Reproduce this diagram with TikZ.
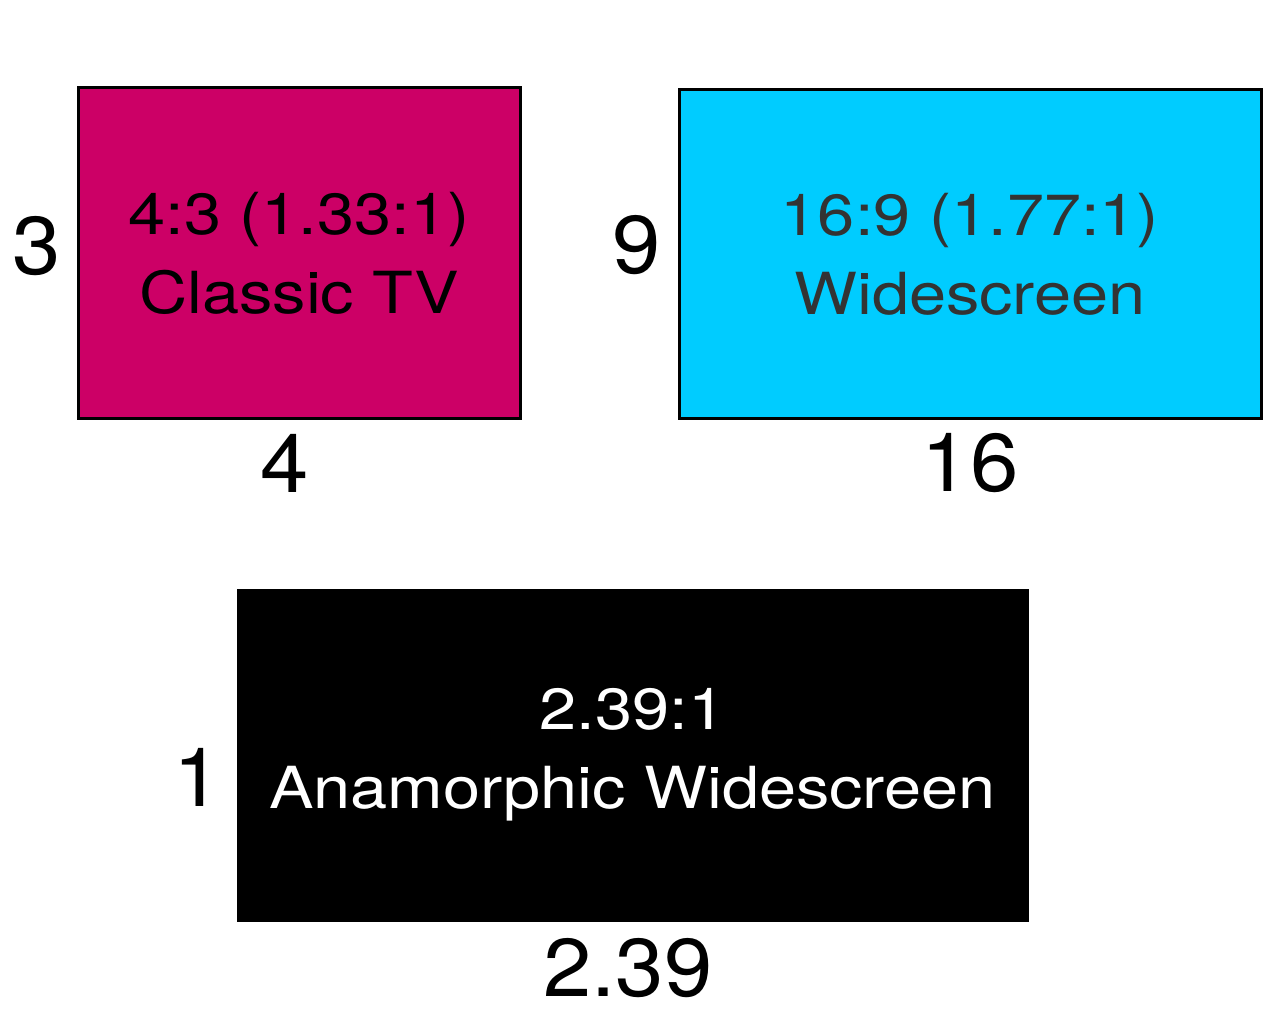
\documentclass[tikz,border=0pt]{standalone}
\usepackage{fontspec}
\setmainfont{TeX Gyre Heros}[FakeStretch=1.15]
\newfontfamily\sidefont{TeX Gyre Heros}[FakeStretch=1.06]
\definecolor{classic}{HTML}{CC0066}
\definecolor{wide}{HTML}{00CCFF}
\definecolor{widetext}{HTML}{333333}
\tikzset{
  screen/.style={draw=black, line width=3pt, inner sep=0pt, align=center,
                 font=\fontsize{58}{79}\selectfont},
  side/.style={inner sep=0pt, font=\sidefont\fontsize{82}{82}\selectfont}
}
\begin{document}
\begin{tikzpicture}[x=1pt, y=-1pt]
 \useasboundingbox (0,0) rectangle (1280,1032);

 % screens
 \node[screen, fill=classic, minimum width=442pt, minimum height=330pt] (tv) at (299,253) {4:3 (1.33:1)\\Classic TV};
 \node[screen, fill=wide, text=widetext, minimum width=582pt, minimum height=328pt] (wide) at (970,254) {16:9 (1.77:1)\\Widescreen};
 \node[screen, fill=black, text=white, minimum width=789pt, minimum height=330pt] (ana) at (632.5,755) {2.39:1\\Anamorphic Widescreen};

 % side lengths
 \foreach \name/\x/\y/\txt in {tv-h/37/246/3, tv-w/285/463/4, wide-h/637/245/9, wide-w/970/463/16, ana-h/198/777/1, ana-w/628/968/2.39}
   \node[side] (\name) at (\x,\y) {\txt};

\end{tikzpicture}
\end{document}
